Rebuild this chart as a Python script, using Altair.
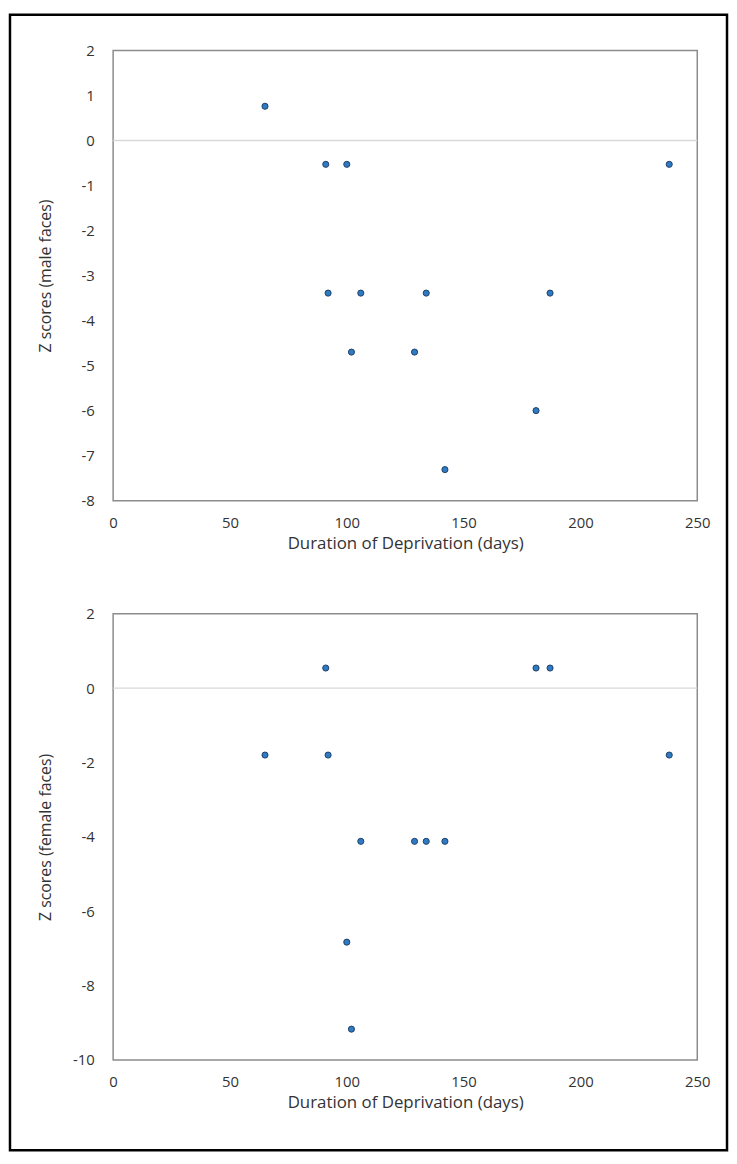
import altair as alt
import pandas as pd

# Data (same 12 participants in both panels)
days = [65, 91, 92, 100, 102, 106, 129, 134, 142, 181, 187, 238]
z_male = [0.76, -0.53, -3.39, -0.53, -4.70, -3.39, -4.70, -3.39, -7.31, -6.00, -3.39, -0.53]
z_female = [-1.80, 0.54, -1.80, -6.83, -9.17, -4.12, -4.12, -4.12, -4.12, 0.54, 0.54, -1.80]

x_ticks = [0, 50, 100, 150, 200, 250]
male_ticks = list(range(-8, 3, 1))
female_ticks = list(range(-10, 3, 2))

x_title = "Duration of Deprivation (days)"
male_title = "Z scores (male faces)"
female_title = "Z scores (female faces)"

FONT = "Open Sans"
TXT = "#333333"
W = 589
H1 = 454
H2 = 450


def panel(values, ytitle, ydomain, yticks, h, with_frame=False):
    df = pd.DataFrame({"days": days, "z": values})
    xs = alt.Scale(domain=[0, 250], nice=False, zero=False)
    ys = alt.Scale(domain=ydomain, nice=False, zero=False)
    xaxis = alt.Axis(values=x_ticks, title=x_title, domain=False, ticks=False, grid=False,
                     labelFlush=False, labelOverlap=False,
                     labelPadding=15, labelFontSize=15, labelColor=TXT, labelFont=FONT,
                     titleFont=FONT, titleFontSize=17, titleFontWeight="normal",
                     titleColor=TXT, titlePadding=5)
    yaxis = alt.Axis(values=yticks, title=ytitle, domain=False, ticks=False, grid=False,
                     labelFlush=False, labelOverlap=False,
                     labelPadding=19, labelFontSize=15, labelColor=TXT, labelFont=FONT,
                     labelExpr="'' + datum.value",
                     titleFont=FONT, titleFontSize=16, titleFontWeight="normal",
                     titleColor=TXT, titleX=-68, titleY=h / 2, titleAngle=-90,
                     titleAlign="center", titleBaseline="middle")
    zero = alt.Chart(pd.DataFrame({"z": [0]})).mark_rule(
        color="#d9d9d9", strokeWidth=1.5
    ).encode(y=alt.Y("z:Q", scale=ys, axis=yaxis))
    pts = alt.Chart(df).mark_point(
        filled=True, size=38, fill="#2E7BC4", stroke="#1F3F66", strokeWidth=1, opacity=1
    ).encode(
        x=alt.X("days:Q", scale=xs, axis=xaxis),
        y=alt.Y("z:Q", scale=ys, axis=yaxis),
    )
    layers = [zero, pts]
    if with_frame:
        frame = alt.Chart(pd.DataFrame({"f": [0]})).mark_rect(
            fill="white", fillOpacity=0, stroke="black", strokeWidth=2.5
        ).encode(
            x=alt.value(-104), x2=alt.value(619),
            y=alt.value(-36), y2=alt.value(1109),
        )
        layers = [frame] + layers
    return alt.layer(*layers).properties(width=W, height=h)


top = panel(z_male, male_title, [-8, 2], male_ticks, H1, with_frame=True)
bottom = panel(z_female, female_title, [-10, 2], female_ticks, H2)

chart = alt.vconcat(top, bottom, spacing=114).properties(
    bounds="flush",
    padding={"left": 0, "top": 0, "right": 0, "bottom": 0},
    background="white",
).configure_view(stroke="#8c8c8c", strokeWidth=1.5)

chart.save("out.html", embed_options={"renderer": "svg", "actions": False})
